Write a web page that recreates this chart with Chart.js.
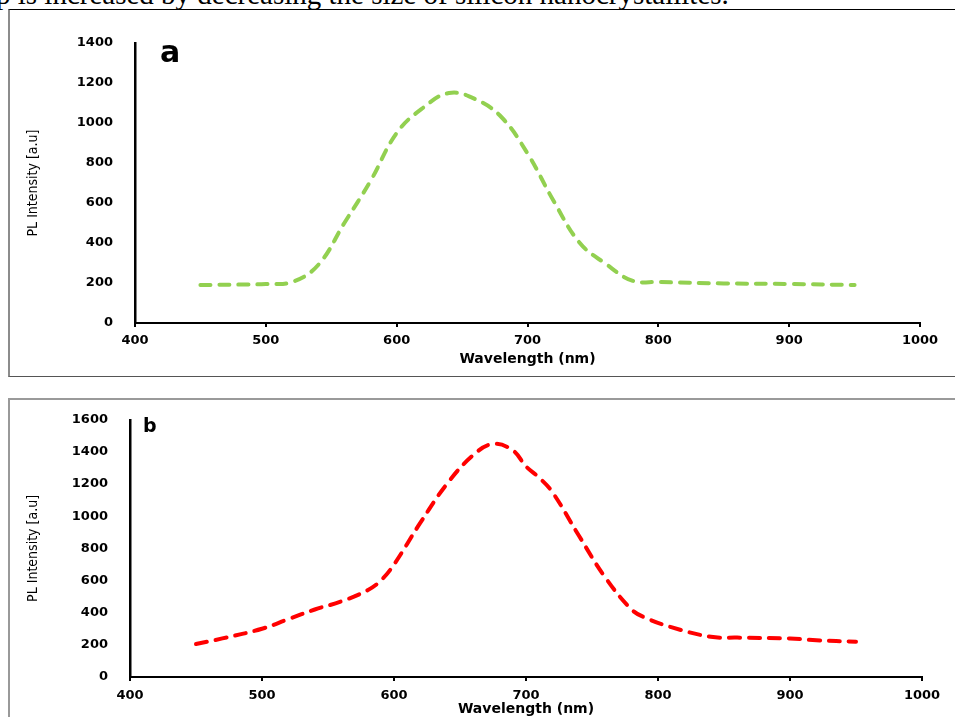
<!DOCTYPE html>
<html>
<head>
<meta charset="utf-8">
<script src="https://cdn.jsdelivr.net/npm/chart.js@4.4.1/dist/chart.umd.min.js"></script>
<style>
  html, body { margin: 0; padding: 0; background: #fff; }
  body { width: 955px; height: 717px; overflow: hidden; position: relative; }
  .caption {
    position: absolute; left: -4px; top: -20px; white-space: nowrap;
    font: 29px/29px "Liberation Serif", "Times New Roman", serif; color: #000;
  }
  .panel { position: absolute; left: 8px; width: 960px; }
  #panelA { top: 9px; height: 366px; border-top: 1px solid #000; border-left: 2px solid #8c8c8c; border-bottom: 1px solid #555; }
  #panelB { top: 398px; height: 330px; border-top: 2px solid #9a9a9a; border-left: 2px solid #999; }
  .tag { position: absolute; font-family: "DejaVu Sans", sans-serif; font-weight: bold; color: #000; }
  canvas { position: absolute; left: 0; }
</style>
</head>
<body>
<div class="caption">p is increased by decreasing the size of silicon nanocrystallites.</div>
<div class="panel" id="panelA"></div>
<div class="panel" id="panelB"></div>
<canvas id="chartA" width="955" height="380" style="top:0"></canvas>
<canvas id="chartB" width="955" height="345" style="top:390px"></canvas>
<div class="tag" style="left:160px; top:37px; font-size:30px; line-height:30px;">a</div>
<div class="tag" style="left:143px; top:416px; font-size:19px; line-height:19px;">b</div>
<script>
// panel a - green curve
const wavelengthA = [450, 480, 500, 520, 540, 560, 580, 600, 620, 640, 660, 680, 700, 720, 740, 760, 780, 800, 850, 900, 950];
const intensityA  = [190, 192, 195, 205, 290, 500, 710, 950, 1075, 1150, 1120, 1030, 848, 610, 400, 295, 212, 205, 198, 195, 190];

// panel b - red curve
const wavelengthB = [450, 470, 500, 520, 540, 560, 580, 590, 600, 620, 640, 660, 675, 690, 700, 710, 720, 740, 760, 780, 790, 810, 840, 860, 900, 920, 950];
const intensityB  = [205, 240, 300, 360, 420, 470, 540, 600, 700, 960, 1200, 1380, 1450, 1410, 1310, 1240, 1150, 880, 620, 420, 370, 310, 250, 245, 240, 228, 220];

const xTicks = [400, 500, 600, 700, 800, 900, 1000];
const yTicksA = [0, 200, 400, 600, 800, 1000, 1200, 1400];
const yTicksB = [0, 200, 400, 600, 800, 1000, 1200, 1400, 1600];

const tickFont = { family: "DejaVu Sans", size: 13, weight: "bold" };

function makeChart(id, xs, ys, color, yTicks, box) {
  const pts = xs.map((x, i) => ({ x: x, y: ys[i] }));
  return new Chart(document.getElementById(id), {
    type: "line",
    data: {
      datasets: [{
        data: pts,
        borderColor: color,
        borderWidth: 4,
        borderDash: box.dash,
        borderCapStyle: "round",
        pointRadius: 0,
        tension: 0.4,
        fill: false
      }]
    },
    options: {
      responsive: false,
      animation: false,
      events: [],
      layout: { padding: { top: box.top, right: box.right, left: 0, bottom: 0 } },
      plugins: { legend: { display: false }, tooltip: { enabled: false } },
      scales: {
        x: {
          type: "linear",
          min: 400, max: 1000,
          afterBuildTicks: s => { s.ticks = xTicks.map(v => ({ value: v })); },
          afterFit: s => { s.height = box.xHeight; },
          grid: { display: true, drawOnChartArea: false, drawTicks: true, tickLength: 4, color: "#000", lineWidth: 2 },
          border: { display: true, color: "#000", width: 2 },
          ticks: { color: "#000", font: tickFont, padding: box.xPad, maxRotation: 0, callback: v => String(v) },
          title: {
            display: true, text: "Wavelength (nm)", color: "#000",
            font: { family: "DejaVu Sans", size: 14, weight: "bold" },
            padding: { top: 0, bottom: box.xTitlePad }
          }
        },
        y: {
          min: 0, max: yTicks[yTicks.length - 1],
          afterBuildTicks: s => { s.ticks = yTicks.map(v => ({ value: v })); },
          afterFit: s => { s.width = box.left; },
          grid: { display: false, drawTicks: false },
          border: { display: true, color: "#000", width: 2.5 },
          ticks: { color: "#000", font: tickFont, padding: 22, callback: v => String(v) },
          title: {
            display: true, text: "PL Intensity [a.u]", color: "#000",
            font: { family: "Liberation Sans Narrow, DejaVu Sans Condensed, sans-serif", size: 14 },
            padding: { top: 25, bottom: 0 }
          }
        }
      }
    }
  });
}

makeChart("chartA", wavelengthA, intensityA, "#92D050", yTicksA,
  { top: 43, right: 35, left: 135, xHeight: 57, xPad: 6, xTitlePad: 12, dash: [10, 9] });

makeChart("chartB", wavelengthB, intensityB, "#FF0000", yTicksB,
  { top: 29, right: 33, left: 130, xHeight: 58, xPad: 7, xTitlePad: 17, dash: [11, 9] });
</script>
</body>
</html>
